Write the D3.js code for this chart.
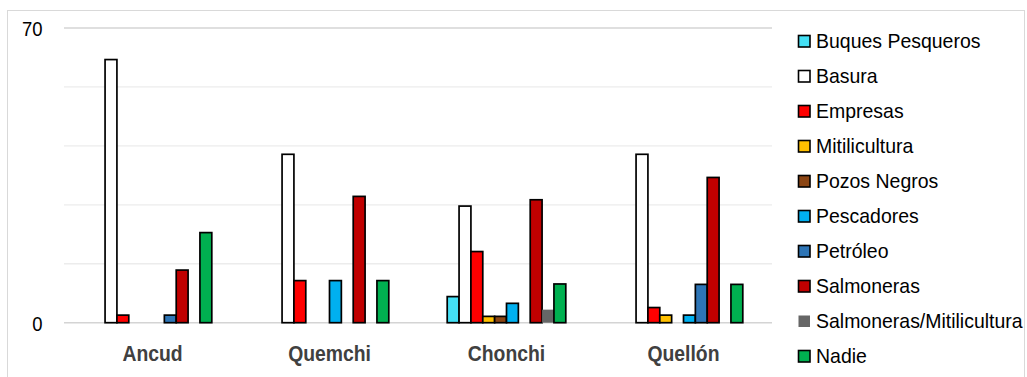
<!DOCTYPE html>
<html>
<head>
<meta charset="utf-8">
<script src="https://cdn.jsdelivr.net/npm/d3@7"></script>
<style>
  html, body { margin: 0; padding: 0; background: #fff; }
  svg { display: block; font-family: "Liberation Sans", Arial, sans-serif; }
</style>
</head>
<body>
<svg id="chart" width="1027" height="377"></svg>
<script>
// Municipalities on the x axis
const categories = ["Ancud", "Quemchi", "Chonchi", "Quellón"];

// Perceived sources, in legend order
const seriesNames = [
  "Buques Pesqueros", "Basura", "Empresas", "Mitilicultura", "Pozos Negros",
  "Pescadores", "Petróleo", "Salmoneras", "Salmoneras/Mitilicultura", "Nadie"
];

// Share of answers (%) per municipality, one array per source
const buquesPesqueros = [0, 0, 6.2, 0];
const basura          = [62.5, 40, 27.7, 40];
const empresas        = [1.8, 10, 16.9, 3.6];
const mitilicultura   = [0, 0, 1.5, 1.8];
const pozosNegros     = [0, 0, 1.5, 0];
const pescadores      = [0, 10, 4.6, 1.8];
const petroleo        = [1.8, 0, 0, 9.1];
const salmoneras      = [12.5, 30, 29.2, 34.5];
const salmMitil       = [0, 0, 3.1, 0];
const nadie           = [21.4, 10, 9.2, 9.1];

const seriesValues = [buquesPesqueros, basura, empresas, mitilicultura, pozosNegros,
                      pescadores, petroleo, salmoneras, salmMitil, nadie];

const seriesColors = ["#44E0F5", "#FFFFFF", "#FF0000", "#FFC000", "#8B4513",
                      "#00B0F0", "#2E75B6", "#C00000", "#666666", "#00B050"];
const seriesStroked = [true, true, true, true, true, true, true, true, false, true];

const yTicks = [0, 14, 28, 42, 56, 70];
const yLabels = [0, 70];

const svg = d3.select("#chart");

// outer chart frame
svg.append("rect")
  .attr("x", 7.5).attr("y", 10.5)
  .attr("width", 1017).attr("height", 420)
  .attr("fill", "#fff").attr("stroke", "#d9d9d9").attr("stroke-width", 1);

const plot = { left: 64, right: 772, top: 28, bottom: 322.7 };

const y = d3.scaleLinear().domain([0, 70]).range([plot.bottom, plot.top]);
const x0 = d3.scaleBand().domain(categories).range([plot.left, plot.right])
  .paddingInner(0.33).paddingOuter(0.165);
const x1 = d3.scaleBand().domain(d3.range(seriesNames.length)).range([0, x0.bandwidth()]);

// horizontal gridlines
svg.append("g").selectAll("line").data(yTicks).join("line")
  .attr("x1", plot.left).attr("x2", plot.right)
  .attr("y1", d => y(d)).attr("y2", d => y(d))
  .attr("stroke", d => (d === 0 || d === 70) ? "#d4d4d4" : "#ececec")
  .attr("stroke-width", d => (d === 0 || d === 70) ? 1.6 : 1.3);

// scaled text helper: horizontally condensed glyphs
function condText(g, x, yy, txt, size, sx, anchor, weight, fill) {
  g.append("text")
    .attr("transform", `translate(${x},${yy}) scale(${sx},1)`)
    .attr("text-anchor", anchor)
    .attr("font-size", size)
    .attr("font-weight", weight)
    .attr("fill", fill)
    .text(txt);
}

// y-axis labels
const yAxisG = svg.append("g");
yLabels.forEach(v => condText(yAxisG, 42.5, y(v) + 8.3, v, 21, 0.88, "end", "normal", "#000"));

// bars
const groups = svg.append("g").selectAll("g").data(categories).join("g")
  .attr("transform", d => `translate(${x0(d)},0)`);

groups.selectAll("rect")
  .data((c, ci) => seriesValues.map((vals, si) => ({ si, v: vals[ci] })).filter(d => d.v > 0))
  .join("rect")
  .attr("x", d => x1(d.si))
  .attr("width", x1.bandwidth())
  .attr("y", d => y(d.v))
  .attr("height", d => y(0) - y(d.v))
  .attr("fill", d => seriesColors[d.si])
  .attr("stroke", d => seriesStroked[d.si] ? "#000" : "none")
  .attr("stroke-width", 1.7);

// category labels
const xAxisG = svg.append("g");
categories.forEach(c => condText(xAxisG, x0(c) + x0.bandwidth() / 2, 361, c, 21.5, 0.9, "middle", "bold", "#404040"));

// legend
const legend = svg.append("g");
seriesNames.forEach((name, i) => {
  const cy = 41 + i * 35;
  legend.append("rect")
    .attr("x", 798.5).attr("y", cy - 5.5)
    .attr("width", 11.5).attr("height", 11.5)
    .attr("fill", seriesColors[i])
    .attr("stroke", seriesStroked[i] ? "#000" : "none")
    .attr("stroke-width", 1.6);
  condText(legend, 816, cy + 7, name, 20.5, 0.95, "start", "normal", "#000");
});
</script>
</body>
</html>
